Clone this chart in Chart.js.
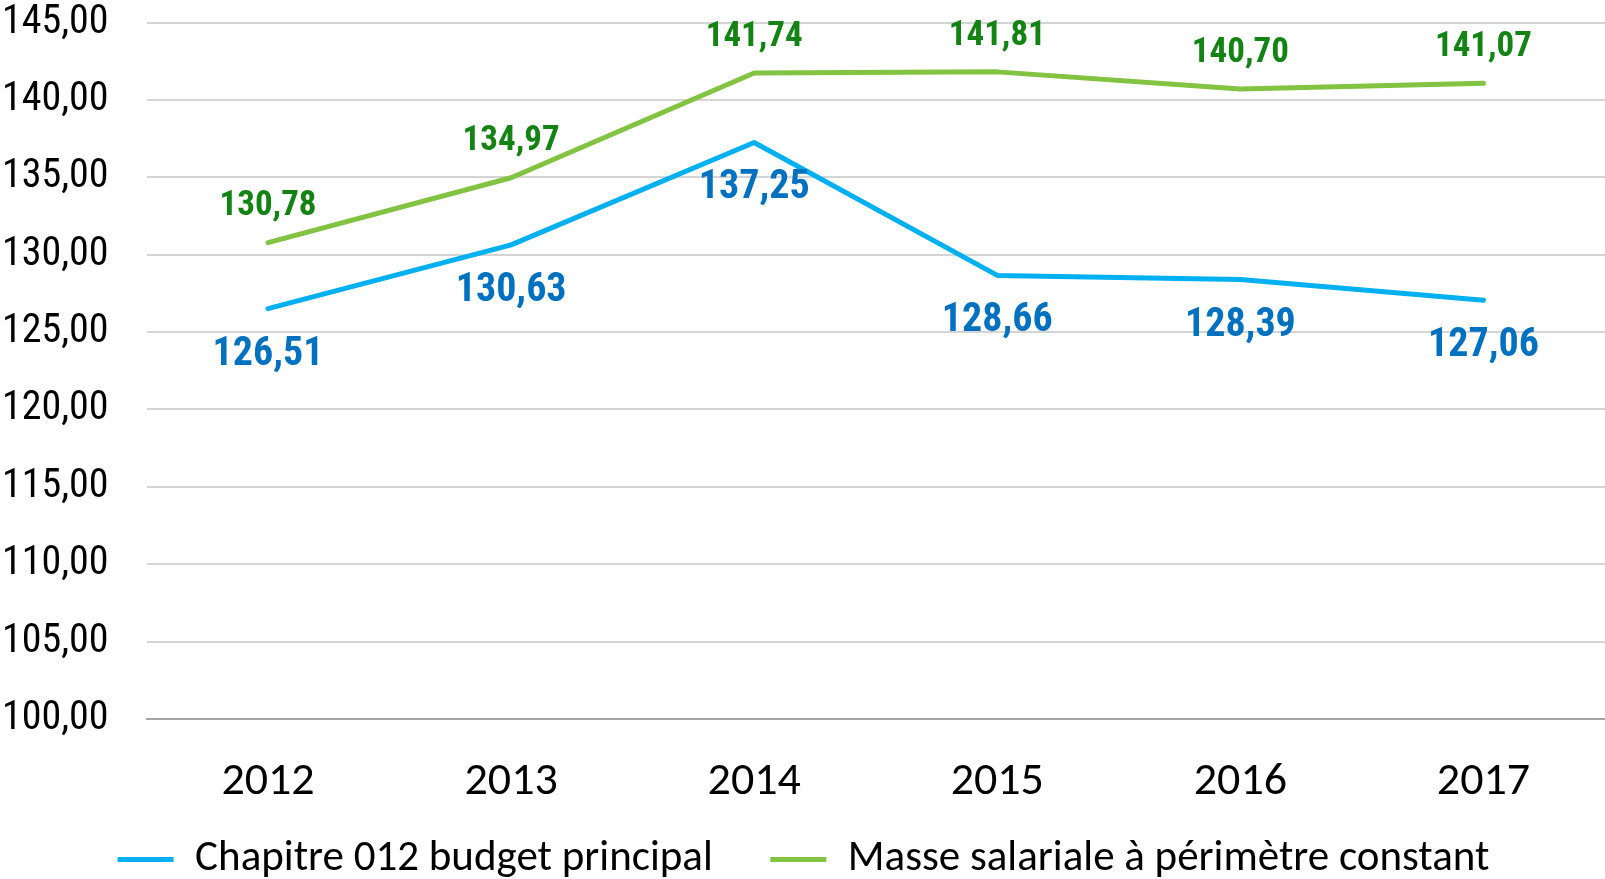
<!DOCTYPE html>
<html lang="fr">
<head>
    <meta charset="UTF-8">
    <title>Chapitre 012 / masse salariale</title>
    <script src="https://cdn.jsdelivr.net/npm/chart.js"></script>
    <style>
        html, body { margin: 0; padding: 0; overflow: hidden; background: #fff; }
        #wrap { width: 1605px; height: 891px; }
    </style>
</head>
<body>
    <div id="wrap"><canvas id="salChart"></canvas></div>

    <script>
        // donnees
        const annees = ['2012', '2013', '2014', '2015', '2016', '2017'];
        const chapitre012 = [126.51, 130.63, 137.25, 128.66, 128.39, 127.06];
        const masseSalariale = [130.78, 134.97, 141.74, 141.81, 140.70, 141.07];
        const nomsSeries = ['Chapitre 012 budget principal', 'Masse salariale à périmètre constant'];
        const yMin = 100, yMax = 145, yPas = 5;

        const virgule = v => v.toFixed(2).replace('.', ',');

        // etiquettes de valeur (pas de plugin datalabels dispo)
        const etiquettes = {
            id: 'etiquettes',
            afterDatasetsDraw(chart) {
                const ctx = chart.ctx;
                ctx.save();
                ctx.textAlign = 'center';
                ctx.textBaseline = 'middle';
                chart.data.datasets.forEach((ds, i) => {
                    const meta = chart.getDatasetMeta(i);
                    ctx.font = 'bold ' + ds.labelSize + 'px "Roboto Condensed", "Liberation Sans Narrow", sans-serif';
                    ctx.fillStyle = ds.labelColor;
                    meta.data.forEach((pt, j) => {
                        ctx.fillText(virgule(ds.data[j]), pt.x, pt.y + ds.labelOffset);
                    });
                });
                ctx.restore();
            }
        };

        const ctx = document.getElementById('salChart').getContext('2d');
        new Chart(ctx, {
            type: 'line',
            data: {
                labels: annees,
                datasets: [{
                    label: nomsSeries[0],
                    data: chapitre012,
                    borderColor: '#00B0F0',
                    backgroundColor: '#00B0F0',
                    borderWidth: 5,
                    borderCapStyle: 'round',
                    borderJoinStyle: 'round',
                    pointRadius: 0,
                    pointStyle: 'line',
                    labelColor: '#0070C0',
                    labelSize: 40,
                    labelOffset: 46
                }, {
                    label: nomsSeries[1],
                    data: masseSalariale,
                    borderColor: '#82C341',
                    backgroundColor: '#82C341',
                    borderWidth: 5,
                    borderCapStyle: 'round',
                    borderJoinStyle: 'round',
                    pointRadius: 0,
                    pointStyle: 'line',
                    labelColor: '#138313',
                    labelSize: 35,
                    labelOffset: -36
                }]
            },
            options: {
                responsive: true,
                maintainAspectRatio: false,
                animation: false,
                layout: { padding: { left: 2, right: 0, top: 0, bottom: 0 } },
                plugins: {
                    tooltip: { enabled: false },
                    legend: {
                        position: 'bottom',
                        labels: {
                            usePointStyle: true,
                            pointStyleWidth: 56,
                            padding: 57.5,
                            color: '#000',
                            font: { family: 'Carlito, Lato, sans-serif', size: 43 }
                        }
                    }
                },
                scales: {
                    x: {
                        offset: true,
                        grid: { display: false, drawTicks: false },
                        border: { display: true, color: '#a6a6a6', width: 2 },
                        ticks: {
                            // mirror = pas de decoupage des etiquettes, on les redescend avec un padding negatif
                            mirror: true,
                            padding: -91,
                            color: '#000',
                            font: { family: 'Carlito, Lato, sans-serif', size: 46 }
                        },
                        afterFit(scale) { scale.height = 61.5; }
                    },
                    y: {
                        min: yMin,
                        max: yMax,
                        grid: { color: '#d4d4d4', lineWidth: 2, drawTicks: false },
                        border: { display: false },
                        ticks: {
                            stepSize: yPas,
                            crossAlign: 'far',
                            padding: -1.5,
                            color: '#000',
                            font: { family: '"Roboto Condensed", "Liberation Sans Narrow", sans-serif', size: 40 },
                            callback: v => virgule(v)
                        },
                        afterFit(scale) { scale.width = 144.5; }
                    }
                }
            },
            plugins: [etiquettes]
        });
    </script>
</body>
</html>
